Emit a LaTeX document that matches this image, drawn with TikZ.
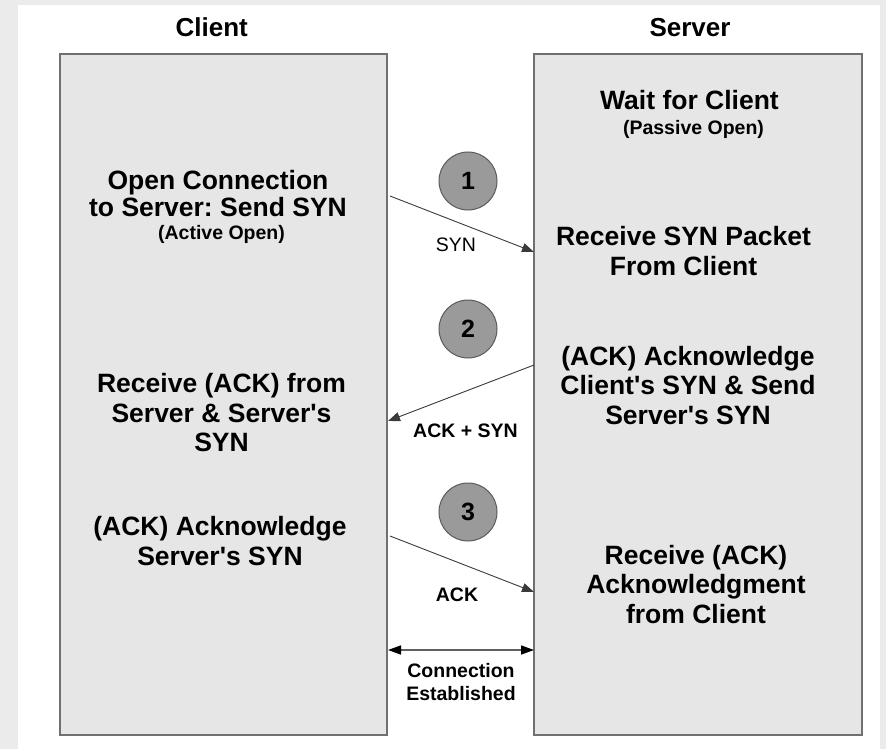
\documentclass[tikz,border=0pt]{standalone}
\usepackage{fontspec}
\setmainfont[Ligatures=TeXOff]{Liberation Sans}
\usetikzlibrary{arrows.meta}
\definecolor{pagegrey}{HTML}{EBEBEB}
\definecolor{lanefill}{HTML}{E6E6E6}
\definecolor{laneline}{HTML}{707070}
\definecolor{stepfill}{HTML}{9A9A9A}
\definecolor{stepline}{HTML}{5A5A5A}
\definecolor{wire}{HTML}{3A3A3A}
\definecolor{estwire}{HTML}{606060}

\begin{document}
\frenchspacing
\begin{tikzpicture}[x=1pt,y=-1pt,
  lane/.style={draw=laneline, fill=lanefill, line width=1.4pt, inner sep=0pt},
  title/.style={font=\fontsize{26}{30}\selectfont\bfseries, anchor=base, inner sep=0pt},
  big/.style={font=\fontsize{26.5}{29.5}\selectfont\bfseries, align=center, anchor=base, inner sep=0pt},
  small/.style={font=\fontsize{19.5}{23}\selectfont\bfseries, align=center, anchor=base, inner sep=0pt},
  msg/.style={font=\fontsize{19.5}{23}\selectfont, anchor=base, inner sep=0pt},
  stepnum/.style={circle, draw=stepline, fill=stepfill, line width=1pt, minimum size=58pt,
    inner sep=0pt, font=\fontsize{25}{25}\selectfont\bfseries},
  packet/.style={draw=wire, line width=0.9pt, -{Triangle[length=12pt,width=9pt]}},
  estab/.style={draw=estwire, line width=1.6pt,
    {Triangle[length=13pt,width=9pt,color=black]}-{Triangle[length=13pt,width=9pt,color=black]}},
]
\useasboundingbox (0,0) rectangle (886,749);
% page background
\fill[pagegrey] (0,0) rectangle (886,749);
\fill[white] (18,5) rectangle (880,749);

% the two lanes
\node[lane, minimum width=327pt, minimum height=681pt] (client) at (223.5,394.5) {};
\node[lane, minimum width=328pt, minimum height=681pt] (server) at (698,394.5) {};

% lane titles
\node[title] (clientTitle) at (211.7,37) {Client};
\node[title] (serverTitle) at (690,37) {Server};

% client side steps (nodes sit on the baseline of their last line)
\node[big, font=\fontsize{26.5}{27}\selectfont\bfseries] (cOpen) at (218,216) {Open Connection\\to Server: Send SYN};
\node[small] (cOpenNote) at (221.5,239) {(Active Open)};
\node[big] (cRecv) at (221.5,451.7) {Receive (ACK) from\\Server \& Server's\\SYN};
\node[big] (cAck) at (220,565) {(ACK) Acknowledge\\Server's SYN};

% server side steps
\node[big] (sWait) at (689.5,110) {Wait for Client};
\node[small] (sWaitNote) at (693.5,135) {(Passive Open)};
\node[big] (sSyn) at (683.5,275) {Receive SYN Packet\\From Client};
\node[big] (sAck) at (688,424) {(ACK) Acknowledge\\Client's SYN \& Send\\Server's SYN};
\node[big] (sEst) at (696,623) {Receive (ACK)\\Acknowledgment\\from Client};

% numbered handshake steps
\node[stepnum] (n1) at (468,181) {1};
\node[stepnum] (n2) at (468,329) {2};
\node[stepnum] (n3) at (468,512) {3};

% packet end points on the lane edges
\coordinate (p1a) at (390,196);
\coordinate (p1b) at (534,252);
\coordinate (p2a) at (534,365);
\coordinate (p2b) at (388,421);
\coordinate (p3a) at (390,536);
\coordinate (p3b) at (534,592);
\coordinate (estL) at (388,650);
\coordinate (estR) at (534,650);

\draw[packet] (p1a) -- (p1b);
\draw[packet] (p2a) -- (p2b);
\draw[packet] (p3a) -- (p3b);
\draw[estab] (estL) -- (estR);

% packet labels
\node[msg] (lSyn) at (456,251.7) {SYN};
\node[small] (lAckSyn) at (465.5,437) {ACK + SYN};
\node[small] (lAck) at (457,601) {ACK};
\node[small] (lEst) at (461,700) {Connection\\Established};
\end{tikzpicture}
\end{document}
